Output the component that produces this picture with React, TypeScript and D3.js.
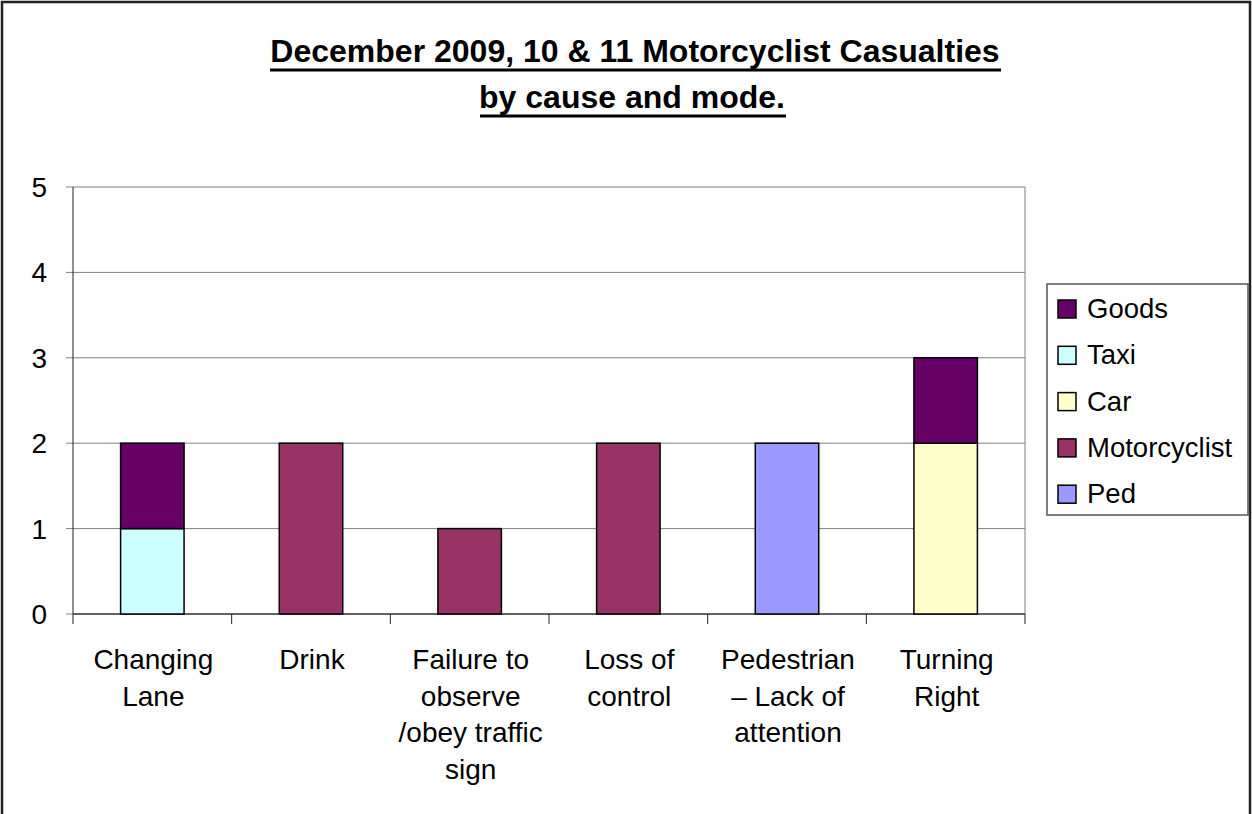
import React from "react";
import * as d3 from "d3";

const categoryLines: string[][] = [
  ["Changing", "Lane"],
  ["Drink"],
  ["Failure to", "observe", "/obey traffic", "sign"],
  ["Loss of", "control"],
  ["Pedestrian", "– Lack of", "attention"],
  ["Turning", "Right"],
];
const categories = categoryLines.map((l) => l.join(" "));

const seriesNames = ["Ped", "Motorcyclist", "Car", "Taxi", "Goods"];
const ped = [0, 0, 0, 0, 2, 0];
const motorcyclist = [0, 2, 1, 2, 0, 0];
const car = [0, 0, 0, 0, 0, 2];
const taxi = [1, 0, 0, 0, 0, 0];
const goods = [1, 0, 0, 0, 0, 1];
const seriesColors = ["#9999FF", "#993366", "#FFFFCC", "#CCFFFF", "#660066"];
const yTicks = [0, 1, 2, 3, 4, 5];

const W = 1252;
const H = 814;
const plot = { left: 73, right: 1025, top: 187, bottom: 614 };
const FONT = "'Liberation Sans', Arial, sans-serif";

export default function App() {
  const seriesValues = [ped, motorcyclist, car, taxi, goods];
  const rows = categories.map((c, i) => {
    const r: Record<string, any> = { cat: c };
    seriesNames.forEach((s, j) => (r[s] = seriesValues[j][i]));
    return r;
  });
  const stacked = d3.stack().keys(seriesNames)(rows as any);

  const x = d3.scaleBand<string>().domain(categories).range([plot.left, plot.right]).paddingInner(0).paddingOuter(0);
  const y = d3.scaleLinear().domain([0, 5]).range([plot.bottom, plot.top]);
  const bw = x.bandwidth() * 0.4;

  const legendItems = [...seriesNames].reverse();
  const legendColors = [...seriesColors].reverse();

  return (
    <svg width={W} height={H} style={{ position: "absolute", left: 0, top: 0, background: "#fff" }} fontFamily={FONT}>
      <rect x={0} y={0} width={W} height={H} fill="#fff" />
      <rect x={2} y={2} width={W - 4} height={H + 20} fill="none" stroke="#222" strokeWidth={2.5} />

      {/* Title */}
      <text x={635} y={62} textAnchor="middle" fontSize={32} fontWeight="bold" fill="#000">
        December 2009, 10 &amp; 11 Motorcyclist Casualties
      </text>
      <line x1={270} x2={1001} y1={70} y2={70} stroke="#000" strokeWidth={3} />
      <text x={632} y={108} textAnchor="middle" fontSize={32} fontWeight="bold" fill="#000">
        by cause and mode.
      </text>
      <line x1={480} x2={786} y1={116} y2={116} stroke="#000" strokeWidth={3} />

      {/* gridlines */}
      {yTicks.map((t) => (
        <line key={"g" + t} x1={plot.left - 7} x2={plot.right} y1={y(t)} y2={y(t)} stroke="#808080" strokeWidth={1} />
      ))}
      <line x1={plot.right} x2={plot.right} y1={plot.top} y2={plot.bottom} stroke="#808080" strokeWidth={1} />
      <line x1={plot.left} x2={plot.left} y1={plot.top} y2={plot.bottom + 10} stroke="#222" strokeWidth={1} />
      <line x1={plot.left} x2={plot.right} y1={plot.bottom} y2={plot.bottom} stroke="#444" strokeWidth={1.5} />

      {/* y tick labels */}
      {yTicks.map((t) => (
        <text key={"yl" + t} x={47} y={y(t) + 10} textAnchor="end" fontSize={28} fill="#000">
          {t}
        </text>
      ))}

      {/* x ticks */}
      {categories.map((c) => (
        <line key={"xt" + c} x1={(x(c) as number) + x.bandwidth()} x2={(x(c) as number) + x.bandwidth()} y1={plot.bottom} y2={plot.bottom + 10} stroke="#222" strokeWidth={1} />
      ))}

      {/* bars */}
      {stacked.map((layer, si) =>
        layer.map((d, i) => {
          const h = y(d[0]) - y(d[1]);
          if (h <= 0) return null;
          const cx = (x(categories[i]) as number) + x.bandwidth() / 2;
          return (
            <rect
              key={seriesNames[si] + i}
              x={cx - bw / 2}
              y={y(d[1])}
              width={bw}
              height={h}
              fill={seriesColors[si]}
              stroke="#000"
              strokeWidth={1.5}
            />
          );
        })
      )}

      {/* x labels */}
      {categoryLines.map((lines, i) => {
        const cx = (x(categories[i]) as number) + x.bandwidth() / 2;
        return (
          <text key={"xl" + i} textAnchor="middle" fontSize={28} fill="#000">
            {lines.map((ln, k) => (
              <tspan key={k} x={cx + 1} y={669 + k * 36.5}>
                {ln}
              </tspan>
            ))}
          </text>
        );
      })}

      {/* legend */}
      <rect x={1047} y={284} width={201} height={231} fill="#fff" stroke="#555" strokeWidth={1.5} />
      {legendItems.map((name, i) => (
        <g key={"lg" + name} transform={`translate(1058, ${300 + i * 46.3})`}>
          <rect x={0} y={0} width={18} height={18} fill={legendColors[i]} stroke="#000" strokeWidth={1.5} />
          <text x={29} y={18} fontSize={27.5} fill="#000">
            {name}
          </text>
        </g>
      ))}
    </svg>
  );
}
